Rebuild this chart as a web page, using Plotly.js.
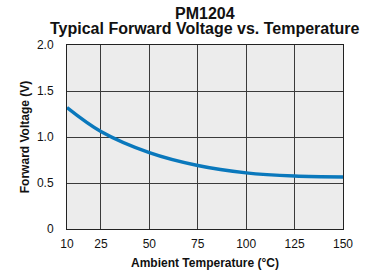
<!DOCTYPE html>
<html>
<head>
<meta charset="utf-8">
<script src="https://cdn.plot.ly/plotly-3.0.1.min.js"></script>
<style>
html,body{margin:0;padding:0;background:#fff;}
#chart{width:367px;height:276px;}
</style>
</head>
<body>
<div id="chart"></div>
<script>
// Data (x axis starts at the "10" label position)
var temperature = [7.5, 25, 50, 75, 100, 125, 150];
var forwardVoltage = [1.32, 1.06, 0.83, 0.69, 0.61, 0.575, 0.565];
var xTickVals = [7.5, 25, 50, 75, 100, 125, 150];
var xTickText = ["10", "25", "50", "75", "100", "125", "150"];
var yTickVals = [0, 0.5, 1.0, 1.5, 2.0];
var yTickText = ["0", "0.5", "1.0", "1.5", "2.0"];

var font = "'Liberation Sans', Arial, sans-serif";

var trace = {
  x: temperature,
  y: forwardVoltage,
  type: "scatter",
  mode: "lines",
  line: {color: "#0a78bc", width: 3.5, shape: "spline", smoothing: 1},
  hoverinfo: "skip"
};

var layout = {
  width: 367,
  height: 276,
  margin: {l: 67, r: 24, t: 45, b: 47},
  paper_bgcolor: "#ffffff",
  plot_bgcolor: "#ececec",
  showlegend: false,
  font: {family: font, size: 12, color: "#111"},
  xaxis: {
    range: [7.5, 150],
    tickvals: xTickVals,
    ticktext: xTickText,
    ticks: "",
    showgrid: true,
    gridcolor: "#3a3a3a",
    gridwidth: 1,
    zeroline: false,
    showline: true,
    linecolor: "#222222",
    linewidth: 1,
    mirror: true,
    tickfont: {family: font, size: 12, color: "#111"},
    ticklabelstandoff: 4,
    title: {text: "<b>Ambient Temperature (°C)</b>", font: {family: font, size: 12, color: "#111"}, standoff: 8}
  },
  yaxis: {
    range: [0, 2.0],
    tickvals: yTickVals,
    ticktext: yTickText,
    ticks: "",
    showgrid: true,
    gridcolor: "#3a3a3a",
    gridwidth: 1,
    zeroline: false,
    showline: true,
    linecolor: "#222222",
    linewidth: 1,
    mirror: true,
    tickfont: {family: font, size: 12, color: "#111"},
    ticklabelstandoff: 10,
    title: {text: "<b>Forward Voltage (V)</b>", font: {family: font, size: 12, color: "#111"}, standoff: 4}
  },
  annotations: [
    {text: "<b>PM1204</b>", xref: "paper", yref: "paper", x: 0.5, y: 1, yshift: 21,
     xanchor: "center", yanchor: "bottom", showarrow: false, font: {family: font, size: 16, color: "#111"}},
    {text: "<b>Typical Forward Voltage vs. Temperature</b>", xref: "paper", yref: "paper", x: 0.5, y: 1, yshift: 6,
     xanchor: "center", yanchor: "bottom", showarrow: false, font: {family: font, size: 16, color: "#111"}}
  ]
};

Plotly.newPlot("chart", [trace], layout, {displayModeBar: false, staticPlot: true});
</script>
</body>
</html>
